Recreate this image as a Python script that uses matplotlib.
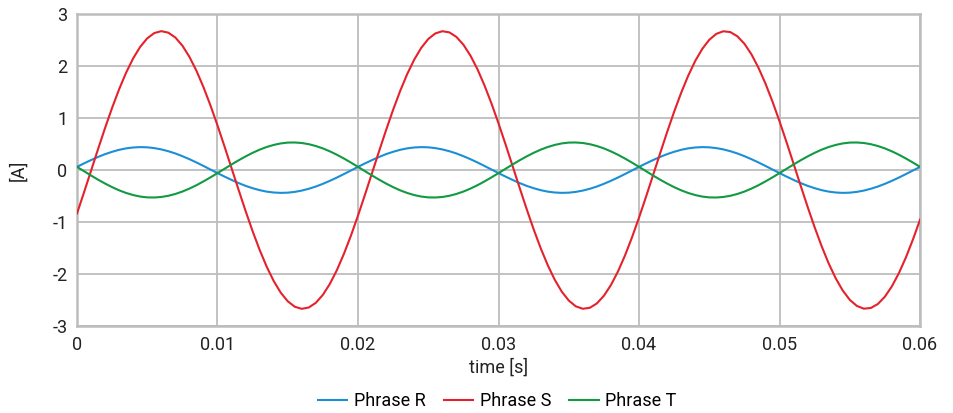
import matplotlib
matplotlib.use("Agg")
import matplotlib.pyplot as plt

plt.rcParams['font.family'] = ['Roboto', 'DejaVu Sans']
plt.rcParams['axes.unicode_minus'] = False

# time samples [s]
time_s = [0.0000, 0.0005, 0.0010, 0.0015, 0.0020, 0.0025, 0.0030, 0.0035, 0.0040, 0.0045,
          0.0050, 0.0055, 0.0060, 0.0065, 0.0070, 0.0075, 0.0080, 0.0085, 0.0090, 0.0095,
          0.0100, 0.0105, 0.0110, 0.0115, 0.0120, 0.0125, 0.0130, 0.0135, 0.0140, 0.0145,
          0.0150, 0.0155, 0.0160, 0.0165, 0.0170, 0.0175, 0.0180, 0.0185, 0.0190, 0.0195,
          0.0200, 0.0205, 0.0210, 0.0215, 0.0220, 0.0225, 0.0230, 0.0235, 0.0240, 0.0245,
          0.0250, 0.0255, 0.0260, 0.0265, 0.0270, 0.0275, 0.0280, 0.0285, 0.0290, 0.0295,
          0.0300, 0.0305, 0.0310, 0.0315, 0.0320, 0.0325, 0.0330, 0.0335, 0.0340, 0.0345,
          0.0350, 0.0355, 0.0360, 0.0365, 0.0370, 0.0375, 0.0380, 0.0385, 0.0390, 0.0395,
          0.0400, 0.0405, 0.0410, 0.0415, 0.0420, 0.0425, 0.0430, 0.0435, 0.0440, 0.0445,
          0.0450, 0.0455, 0.0460, 0.0465, 0.0470, 0.0475, 0.0480, 0.0485, 0.0490, 0.0495,
          0.0500, 0.0505, 0.0510, 0.0515, 0.0520, 0.0525, 0.0530, 0.0535, 0.0540, 0.0545,
          0.0550, 0.0555, 0.0560, 0.0565, 0.0570, 0.0575, 0.0580, 0.0585, 0.0590, 0.0595,
          0.0600]

# current [A]
phase_r = [0.060, 0.127, 0.191, 0.251, 0.305, 0.350, 0.388, 0.416, 0.433, 0.440,
           0.436, 0.421, 0.396, 0.361, 0.318, 0.266, 0.208, 0.145, 0.078, 0.009,
           -0.060, -0.127, -0.191, -0.251, -0.305, -0.350, -0.388, -0.416, -0.433, -0.440,
           -0.436, -0.421, -0.396, -0.361, -0.318, -0.266, -0.208, -0.145, -0.078, -0.009,
           0.060, 0.127, 0.191, 0.251, 0.305, 0.350, 0.388, 0.416, 0.433, 0.440,
           0.436, 0.421, 0.396, 0.361, 0.318, 0.266, 0.208, 0.145, 0.078, 0.009,
           -0.060, -0.127, -0.191, -0.251, -0.305, -0.350, -0.388, -0.416, -0.433, -0.440,
           -0.436, -0.421, -0.396, -0.361, -0.318, -0.266, -0.208, -0.145, -0.078, -0.009,
           0.060, 0.127, 0.191, 0.251, 0.305, 0.350, 0.388, 0.416, 0.433, 0.440,
           0.436, 0.421, 0.396, 0.361, 0.318, 0.266, 0.208, 0.145, 0.078, 0.009,
           -0.060, -0.127, -0.191, -0.251, -0.305, -0.350, -0.388, -0.416, -0.433, -0.440,
           -0.436, -0.421, -0.396, -0.361, -0.318, -0.266, -0.208, -0.145, -0.078, -0.009,
           0.060]

phase_s = [-0.837, -0.431, -0.015, 0.402, 0.809, 1.196, 1.554, 1.874, 2.148, 2.369,
           2.532, 2.633, 2.670, 2.641, 2.548, 2.392, 2.177, 1.909, 1.595, 1.241,
           0.857, 0.452, 0.036, -0.381, -0.789, -1.178, -1.537, -1.859, -2.135, -2.359,
           -2.525, -2.630, -2.670, -2.644, -2.554, -2.401, -2.189, -1.924, -1.611, -1.260,
           -0.877, -0.472, -0.057, 0.361, 0.769, 1.159, 1.520, 1.844, 2.122, 2.349,
           2.519, 2.626, 2.669, 2.647, 2.560, 2.410, 2.201, 1.939, 1.628, 1.278,
           0.897, 0.493, 0.078, -0.340, -0.749, -1.140, -1.503, -1.828, -2.110, -2.339,
           -2.511, -2.622, -2.669, -2.650, -2.566, -2.419, -2.213, -1.953, -1.645, -1.296,
           -0.916, -0.514, -0.099, 0.319, 0.729, 1.121, 1.485, 1.813, 2.097, 2.329,
           2.504, 2.618, 2.668, 2.652, 2.571, 2.428, 2.225, 1.967, 1.661, 1.315,
           0.936, 0.534, 0.119, -0.298, -0.709, -1.102, -1.468, -1.798, -2.084, -2.319,
           -2.497, -2.614, -2.667, -2.654, -2.577, -2.436, -2.236, -1.981, -1.678, -1.333,
           -0.956]

phase_t = [0.060, -0.023, -0.106, -0.186, -0.261, -0.330, -0.391, -0.442, -0.482, -0.511,
           -0.527, -0.529, -0.519, -0.496, -0.461, -0.415, -0.358, -0.293, -0.220, -0.142,
           -0.060, 0.023, 0.106, 0.186, 0.261, 0.330, 0.391, 0.442, 0.482, 0.511,
           0.527, 0.529, 0.519, 0.496, 0.461, 0.415, 0.358, 0.293, 0.220, 0.142,
           0.060, -0.023, -0.106, -0.186, -0.261, -0.330, -0.391, -0.442, -0.482, -0.511,
           -0.527, -0.529, -0.519, -0.496, -0.461, -0.415, -0.358, -0.293, -0.220, -0.142,
           -0.060, 0.023, 0.106, 0.186, 0.261, 0.330, 0.391, 0.442, 0.482, 0.511,
           0.527, 0.529, 0.519, 0.496, 0.461, 0.415, 0.358, 0.293, 0.220, 0.142,
           0.060, -0.023, -0.106, -0.186, -0.261, -0.330, -0.391, -0.442, -0.482, -0.511,
           -0.527, -0.529, -0.519, -0.496, -0.461, -0.415, -0.358, -0.293, -0.220, -0.142,
           -0.060, 0.023, 0.106, 0.186, 0.261, 0.330, 0.391, 0.442, 0.482, 0.511,
           0.527, 0.529, 0.519, 0.496, 0.461, 0.415, 0.358, 0.293, 0.220, 0.142,
           0.060]

series_names = ['Phrase R', 'Phrase S', 'Phrase T']
x_ticks = [0, 0.01, 0.02, 0.03, 0.04, 0.05, 0.06]
x_tick_labels = ['0', '0.01', '0.02', '0.03', '0.04', '0.05', '0.06']
y_ticks = [-3, -2, -1, 0, 1, 2, 3]
y_tick_labels = ['-3', '-2', '-1', '0', '1', '2', '3']

colors = ['#1b8fd6', '#e5222b', '#119a41']
grid_c = '#bdbdbd'

fig = plt.figure(figsize=(9.54, 4.13), dpi=100)
ax = fig.add_axes([0.0807, 0.2107, 0.8837, 0.7554])

for ys, name, c in zip([phase_r, phase_s, phase_t], series_names, colors):
    ax.plot(time_s, ys, color=c, lw=1.5, label=name, zorder=3,
            solid_joinstyle='round')

ax.set_xlim(0, 0.06)
ax.set_ylim(-3, 3)
ax.set_xticks(x_ticks)
ax.set_xticklabels(x_tick_labels)
ax.set_yticks(y_ticks)
ax.set_yticklabels(y_tick_labels)
ax.tick_params(length=0, labelsize=13, pad=7, colors='#222222')
ax.grid(True, color=grid_c, lw=1.3)
ax.set_axisbelow(True)
for sp in ax.spines.values():
    sp.set_color(grid_c)
    sp.set_linewidth(1.8)

ax.set_xlabel('time [s]', fontsize=13, labelpad=3, color='#222222')
ax.set_ylabel('[A]', fontsize=13, labelpad=18, color='#222222')

fig.legend(loc='lower center', bbox_to_anchor=(0.521, -0.032), ncol=3, frameon=False,
           fontsize=13, handlelength=1.65, handletextpad=0.35, columnspacing=1.0)

fig.savefig('out.png', dpi=100)
